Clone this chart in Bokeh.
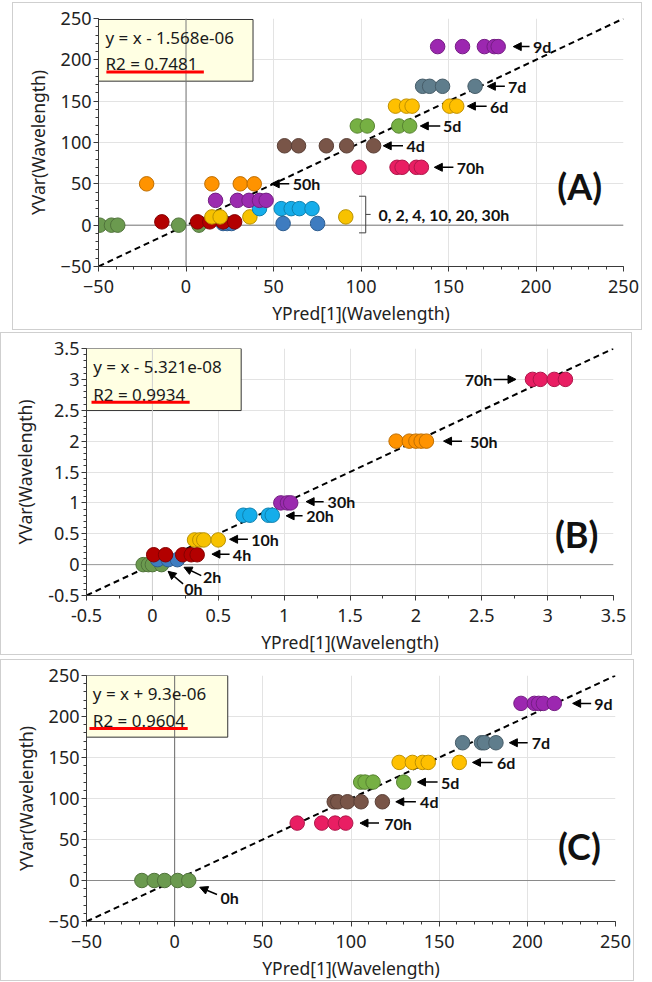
from bokeh.plotting import figure
from bokeh.layouts import column
from bokeh.models import FixedTicker, Arrow, NormalHead
from bokeh.embed import file_html
from bokeh.resources import INLINE
from bokeh.core.properties import value

# ---------------- data ----------------
COLORS = {"0h": "#6B9A4F", "2h": "#3E7CC0", "4h": "#B30000", "10h": "#F7C200",
          "20h": "#15ADEA", "30h": "#9B2BAF", "50h": "#FF9300", "70h": "#E91E63",
          "4d": "#795548", "5d": "#76B043", "6d": "#FFC000", "7d": "#5F7D8C",
          "9d": "#9C27B0"}

# Panel A
A_GROUPS = ["0h", "2h", "4h", "10h", "20h", "30h", "50h", "70h", "4d", "5d", "6d", "7d", "9d"]
A_YVAR = [0, 2, 4, 10, 20, 30, 50, 70, 96, 120, 144, 168, 216]
A_PRED = [
    [-49.3, -42.6, -39.0, -4.2, 7.4],
    [21.2, 23.5, 26.0, 55.5, 75.2],
    [-13.8, 6.6, 13.6, 21.2, 27.8],
    [14.8, 19.5, 36.5, 91.3],
    [42.0, 54.4, 60.1, 64.8, 72.0],
    [16.9, 29.4, 36.0, 42.0, 45.8],
    [-22.5, 14.8, 31.0, 39.0],
    [98.9, 120.6, 123.5, 131.6, 134.5],
    [56.3, 64.3, 80.2, 91.8, 107.2],
    [97.9, 103.6, 121.6, 127.8],
    [119.7, 126.0, 129.2, 150.6, 154.7],
    [135.2, 139.2, 146.6, 165.2],
    [143.8, 158.0, 170.5, 176.1, 178.4],
]
A_EQ = ["y = x - 1.568e-06", "R2 = 0.7481"]

# Panel B
B_GROUPS = ["0h", "2h", "4h", "10h", "20h", "30h", "50h", "70h"]
B_YVAR = [0, 0.08, 0.16, 0.4, 0.8, 1.0, 2.0, 3.0]
B_PRED = [
    [-0.07, -0.03, 0.0, 0.07],
    [0.04, 0.12, 0.19],
    [0.01, 0.10, 0.23, 0.295, 0.34],
    [0.32, 0.36, 0.39, 0.50],
    [0.69, 0.74, 0.88, 0.91],
    [0.975, 1.025, 1.05],
    [1.85, 1.95, 2.0, 2.04, 2.08],
    [2.885, 2.945, 3.05, 3.135],
]
B_EQ = ["y = x - 5.321e-08", "R2 = 0.9934"]

# Panel C
C_GROUPS = ["0h", "70h", "4d", "5d", "6d", "7d", "9d"]
C_YVAR = [0, 70, 96, 120, 144, 168, 216]
C_PRED = [
    [-18.6, -11.6, -5.7, 1.7, 8.0],
    [69.5, 83.4, 91.0, 97.0],
    [90.5, 92.5, 98.0, 105.7, 117.8],
    [105.5, 108.0, 112.5, 129.9],
    [127.3, 134.8, 140.5, 143.8, 161.4],
    [163.3, 174.0, 175.6, 182.2],
    [196.4, 204.0, 206.4, 209.1, 215.3],
]
C_EQ = ["y = x + 9.3e-06", "R2 = 0.9604"]

A_XTICKS = [-50, 0, 50, 100, 150, 200, 250]
A_YTICKS = [-50, 0, 50, 100, 150, 200, 250]
B_XTICKS = [-0.5, 0, 0.5, 1, 1.5, 2, 2.5, 3, 3.5]
B_YTICKS = [-0.5, 0, 0.5, 1, 1.5, 2, 2.5, 3, 3.5]

# ---------------- annotation layout ----------------
A_ARROWS = [  # tail x, tail y, tip x, tip y
    (196.3, 216, 187.0, 216), (182.2, 168, 172.2, 168), (171.8, 144, 160.8, 144),
    (145.3, 120, 133.9, 120), (124.0, 96, 112.7, 96), (152.8, 70, 141.9, 70),
    (59.0, 50, 48.7, 50)]
A_LABELS = [(198.3, 216, "9d"), (184.0, 168, "7d"), (173.7, 144, "6d"),
            (146.8, 120, "5d"), (126.0, 96, "4d"), (154.7, 70, "70h"),
            (61.0, 50, "50h"), (110.0, 13, "0, 2, 4, 10, 20, 30h")]
B_ARROWS = [(0.233, -0.312, 0.119, -0.108), (0.371, -0.177, 0.24, -0.043),
            (0.586, 0.17, 0.452, 0.17), (0.725, 0.41, 0.586, 0.41),
            (1.14, 0.79, 1.015, 0.79), (1.30, 1.02, 1.167, 1.02),
            (2.35, 2.0, 2.21, 2.0), (2.59, 3.0, 2.76, 3.0)]
B_LABELS = [(0.242, -0.387, "0h"), (0.384, -0.19, "2h"), (0.611, 0.17, "4h"),
            (0.75, 0.41, "10h"), (1.167, 0.79, "20h"), (1.33, 1.02, "30h"),
            (2.41, 2.0, "50h")]
C_ARROWS = [(236.2, 216, 225.7, 216), (200.2, 168, 189.8, 168), (180.3, 144, 168.9, 144),
            (149.1, 120, 137.7, 120), (136.8, 96, 125.4, 96), (115.9, 70, 105.1, 70),
            (24.0, -17, 14.2, -8.2)]
C_LABELS = [(238.0, 216, "9d"), (202.5, 168, "7d"), (182.8, 144, "6d"),
            (151.0, 120, "5d"), (139.2, 96, "4d"), (118.8, 70, "70h"), (26.0, -21, "0h")]

FONT = "Noto Sans"
AFONT = "Lato"


def darker(h, f=0.75):
    r, g, b = int(h[1:3], 16), int(h[3:5], 16), int(h[5:7], 16)
    return "#%02x%02x%02x" % (int(r * f), int(g * f), int(b * f))


def minor_list(ticks, n):
    out = []
    for a, b in zip(ticks[:-1], ticks[1:]):
        step = (b - a) / n
        out += [a + step * k for k in range(n + 1)]
    return out


def panel(width, height, margin, borders, rng, xticks, xminor_n, yticks, yminor_n,
          groups, yvar, preds, eq, box, eqpos, uline, arrows, labels, letter,
          vzero_color, hzero_color, label_fmt=None):
    L, R, T, B = borders
    lo, hi = rng
    p = figure(width=width, height=height, x_range=(lo, hi), y_range=(lo, hi),
               output_backend="svg", toolbar_location=None,
               min_border_left=L, min_border_right=R, min_border_top=T,
               min_border_bottom=B, margin=margin,
               background_fill_color="white", border_fill_color="white")
    p.outline_line_color = None
    p.styles = {"border": "1px solid #cfcfcf"}
    p.xaxis.ticker = FixedTicker(ticks=xticks, minor_ticks=minor_list(xticks, xminor_n))
    p.yaxis.ticker = FixedTicker(ticks=yticks, minor_ticks=minor_list(yticks, yminor_n))
    if label_fmt:
        p.xaxis.major_label_overrides = label_fmt
        p.yaxis.major_label_overrides = label_fmt
    for ax in (p.xaxis[0], p.yaxis[0]):
        ax.axis_line_color = "#3a3a3a"
        ax.major_tick_line_color = "#3a3a3a"
        ax.minor_tick_line_color = "#3a3a3a"
        ax.major_tick_in = 0
        ax.minor_tick_in = 0
        ax.major_tick_out = 5
        ax.minor_tick_out = 3
        ax.major_label_text_font = FONT
        ax.major_label_text_font_size = "18px"
        ax.major_label_text_color = "#222222"
        ax.axis_label_text_font = FONT
        ax.axis_label_text_font_size = "17.5px"
        ax.axis_label_text_font_style = "normal"
        ax.axis_label_text_color = "#222222"
    p.xaxis.axis_label = "YPred[1](Wavelength)"
    p.yaxis.axis_label = "YVar(Wavelength)"
    p.xaxis.major_label_standoff = 8
    p.xaxis.axis_label_standoff = 5
    p.yaxis.major_label_standoff = 2
    p.yaxis.axis_label_standoff = 8
    p.grid.grid_line_color = "#e3e3e3"
    p.grid.grid_line_width = 1

    # stats box
    p.quad(left=[box[0]], right=[box[1]], bottom=[box[2]], top=[box[3]],
           fill_color="#FFFFE3", line_color="#333333", line_width=1)
    # zero reference lines
    p.segment(x0=[0], y0=[lo], x1=[0], y1=[hi], line_color=vzero_color, line_width=1)
    p.segment(x0=[lo], y0=[0], x1=[hi], y1=[0], line_color=hzero_color, line_width=1)
    # y = x fit line
    p.line(x=[lo, hi], y=[lo, hi], line_color="black", line_width=2, line_dash="6 4")
    # points
    for g, yv, xs in zip(groups, yvar, preds):
        p.scatter(x=xs, y=[yv] * len(xs), size=14.5, marker="circle",
                  fill_color=COLORS[g], line_color=darker(COLORS[g]), line_width=1)
    # equation text
    p.text(x=[eqpos[0], eqpos[0]], y=[eqpos[1], eqpos[2]], text=eq,
           text_font=value(FONT), text_font_size="17px", text_color="#1a1a1a",
           text_baseline="middle", text_align="left")
    p.segment(x0=[uline[0]], y0=[uline[2]], x1=[uline[1]], y1=[uline[2]],
              line_color="#FF0000", line_width=3)
    # arrows
    for (x0, y0, x1, y1) in arrows:
        p.add_layout(Arrow(end=NormalHead(size=8, fill_color="black", line_color="black"),
                           x_start=x0, y_start=y0, x_end=x1, y_end=y1,
                           line_color="black", line_width=1.5))
    p.text(x=[l[0] for l in labels], y=[l[1] for l in labels], text=[l[2] for l in labels],
           text_font=value(AFONT), text_font_style="bold", text_font_size="16px",
           text_color="#111111", text_baseline="middle", text_align="left")
    p.text(x=[letter[0]], y=[letter[1]], text=[letter[2]],
           text_font=value(AFONT), text_font_style="bold", text_font_size="36px",
           text_color="#111111", text_baseline="middle", text_align="center")
    return p


pA = panel(630, 328, (2, 0, 0, 12), (81, 18, 15, 65), (-50, 250),
           A_XTICKS, 5, A_YTICKS, 5, A_GROUPS, A_YVAR, A_PRED, A_EQ,
           (-50, 38.3, 174.2, 248.8), (-46, 227.4, 195.1), (-45.5, 10.2, 185.3),
           A_ARROWS, A_LABELS, (225, 47, "(A)"), "#7a7a7a", "#7a7a7a")
# bracket for low-hour groups in panel A
pA.line(x=[98.9, 102.7, 102.7, 98.9], y=[35, 35, -9.3, -9.3], line_color="#404040", line_width=1)
pA.segment(x0=[102.7], y0=[13], x1=[105.5], y1=[13], line_color="#404040", line_width=1)

fmtB = {t: ("%g" % t) for t in B_XTICKS}
pB = panel(632, 323, (2, 0, 0, 0), (85, 18, 15, 60), (-0.5, 3.5),
           B_XTICKS, 2, B_YTICKS, 5, B_GROUPS, B_YVAR, B_PRED, B_EQ,
           (-0.5, 0.674, 2.495, 3.5), (-0.449, 3.21, 2.763), (-0.462, 0.283, 2.63),
           B_ARROWS, B_LABELS, (3.22, 0.495, "(B)"), "#d0d0d0", "#9a9a9a", fmtB)
pB.text(x=[2.58], y=[3.0], text=["70h"], text_font=value(AFONT), text_font_style="bold",
        text_font_size="16px", text_color="#111111", text_baseline="middle", text_align="right")

pC = panel(634, 322, (4, 0, 0, 0), (83, 20, 15, 60), (-50, 250),
           A_XTICKS, 5, A_YTICKS, 5, C_GROUPS, C_YVAR, C_PRED, C_EQ,
           (-50, 30.1, 174.8, 250), (-46.4, 228, 195.1), (-48.3, 7.4, 185.4),
           C_ARROWS, C_LABELS, (229.5, 42, "(C)"), "#6a6a6a", "#8a8a8a")

layout = column(pA, pB, pC, spacing=0)
open("out.html", "w").write(file_html(layout, INLINE))
